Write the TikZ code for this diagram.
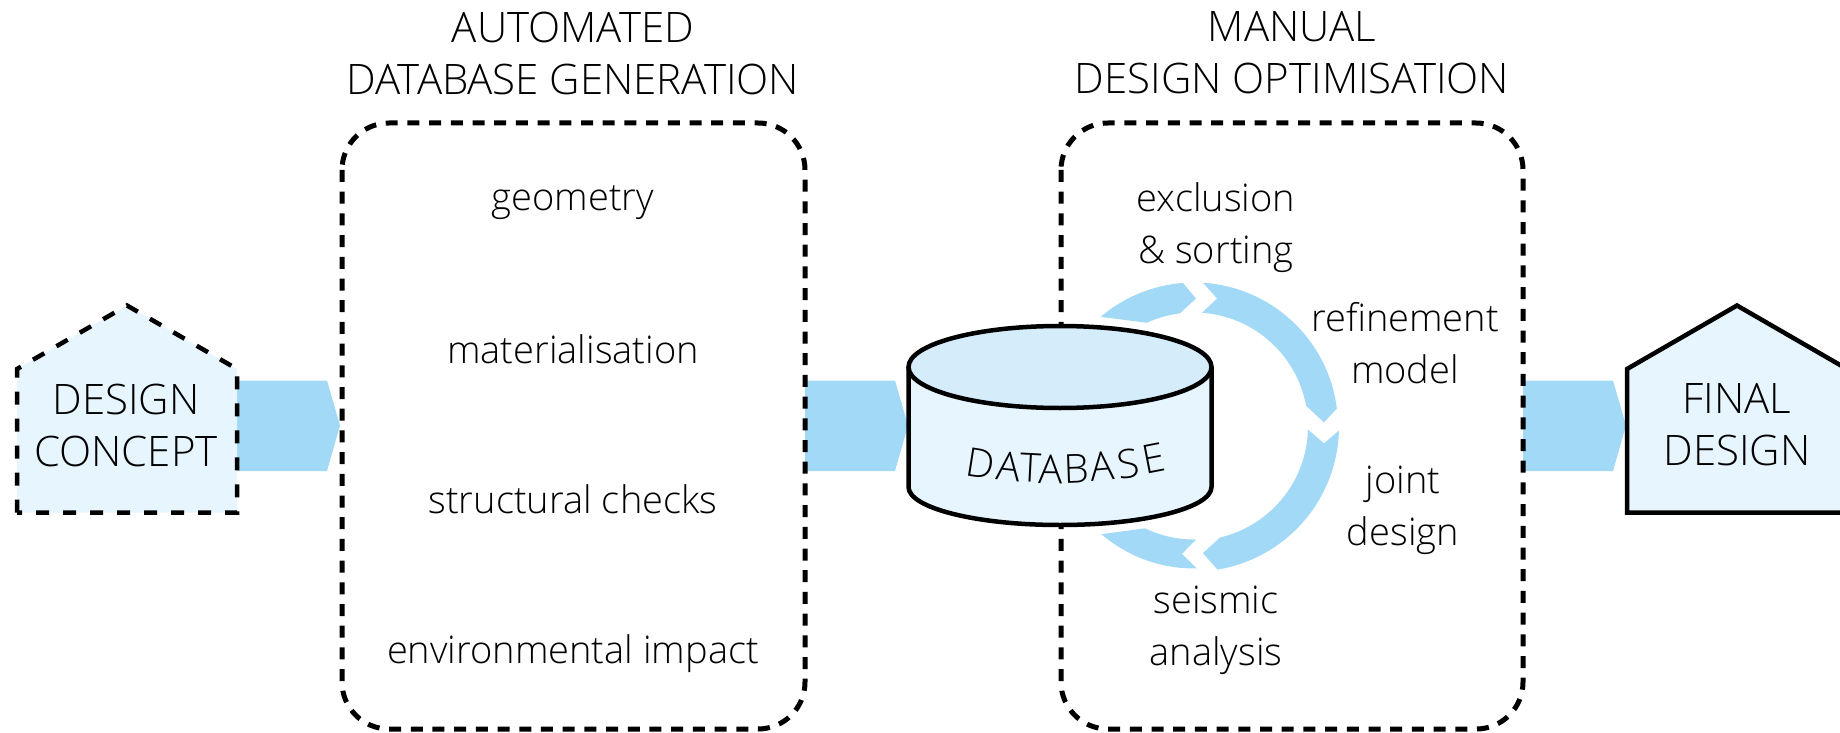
\documentclass[tikz,border=0pt]{standalone}
\usepackage{fontspec}
\setmainfont{Open Sans}[UprightFont=* Light]
\definecolor{flowblue}{HTML}{A2D9F7}
\definecolor{paleblue}{HTML}{E7F5FE}
\definecolor{topblue}{HTML}{D5ECFB}
\newcommand{\labelfont}{\fontsize{38}{52}\selectfont}
\newcommand{\capsfont}{\fontsize{42}{52}\selectfont}
\newcommand{\bentletter}[3]{\raisebox{#2pt}{\rotatebox[origin=c]{#1}{#3}}}
\begin{document}
\begin{tikzpicture}[x=1pt,y=-1pt,
		flow/.style={fill=flowblue},
		solidline/.style={line width=4.5pt,line join=miter},
		dashline/.style={line width=4.5pt,dash pattern=on 13pt off 14pt},
		boxline/.style={line width=5pt,dash pattern=on 12pt off 9.7pt,rounded corners=47pt},
		lbl/.style={font=\labelfont,align=center,inner sep=0pt},
		caps/.style={font=\capsfont,align=center,inner sep=0pt}]
	\useasboundingbox (0,0) rectangle (1840,733);
	% block arrows
	\foreach \x in {237,805,1523}
		\fill[flow] (\x,380.5) -- ++(90,0) -- ++(13,45) -- ++(-13,45.5) -- ++(-90,0) -- cycle;
	% dashed frames
	\draw[boxline] (342,123) rectangle (805,729);
	\draw[boxline] (1061,123) rectangle (1523,729);
	% ring of arrows
	\begin{scope}[shift={(1194,426.5)}]
		\fill[flow] (130.4:144pt) arc[start angle=130.4,end angle=94.4,radius=144pt] -- (89.1:128pt) -- (97.1:114pt) arc[start angle=97.1,end angle=114.5,radius=114pt] -- cycle;
		\fill[flow] (86.4:144pt) arc[start angle=86.4,end angle=7.2,radius=144pt] -- (1.8:130pt) -- (10.5:114pt) arc[start angle=10.5,end angle=86,radius=114pt] -- (79.8:130pt) -- cycle;
		\fill[flow] (-1.6:145pt) arc[start angle=-1.6,end angle=-80.7,radius=145pt] -- (-86:127pt) -- (-76.8:114pt) arc[start angle=-76.8,end angle=-1.5,radius=114pt] -- (-7.4:131pt) -- cycle;
		\fill[flow] (-88.8:142pt) arc[start angle=-88.8,end angle=-130.7,radius=142pt] -- (-115.7:113pt) arc[start angle=-115.7,end angle=-89,radius=113pt] -- (-95.4:128pt) -- cycle;
	\end{scope}
	% houses
	\fill[paleblue] (17,369) -- (127,305.5) -- (237,369) -- (237,512.5) -- (17,512.5) -- cycle;
	\draw[dashline] (17,512.5) -- (17,369) -- (127,305.5) -- (237,369) -- (237,512.5) -- cycle;
	\draw[solidline,fill=paleblue] (1627,369) -- (1737,305.5) -- (1847,369) -- (1847,512.5) -- (1627,512.5) -- cycle;
	% database
	\draw[solidline,fill=paleblue] (908.5,367) -- (908.5,487) arc[start angle=180,end angle=360,x radius=151.5pt,y radius=38pt] -- (1211.5,367);
	\draw[solidline,fill=topblue] (1060,367) ellipse[x radius=151.5pt,y radius=41pt];
	\node[font=\fontsize{40}{52}\selectfont,inner sep=0pt] (database) at (1066,463) {\bentletter{-9}{5.7}{D}\kern-1.5pt\bentletter{-6}{2.3}{A}\kern-3pt\bentletter{-3}{1.3}{T}\kern-3pt\bentletter{-1}{0}{A}\bentletter{2}{.7}{B}\bentletter{5}{3.3}{A}\bentletter{8}{5.7}{S}\kern-1pt\bentletter{11}{10.7}{E}};
	% labels
	\node[caps] (concept) at (126,425) {DESIGN\\CONCEPT};
	\node[caps] (final) at (1737,425) {FINAL\\DESIGN};
	\node[caps] (autotitle) at (573,53) {AUTOMATED\\DATABASE GENERATION};
	\node[caps] (manualtitle) at (1292,53) {MANUAL\\DESIGN OPTIMISATION};
	\node[lbl] (geometry) at (573,203) {geometry};
	\node[lbl] (material) at (573,349) {materialisation};
	\node[lbl] (checks) at (573,499) {structural checks};
	\node[lbl] (impact) at (573,654) {environmental impact};
	\node[lbl] (exclusion) at (1216,228) {exclusion\\\& sorting};
	\node[lbl] (refinement) at (1405,343) {refinement\\model};
	\node[lbl] (joint) at (1403,510) {joint\\design};
	\node[lbl] (seismic) at (1216,630) {seismic\\analysis};
\end{tikzpicture}
\end{document}
